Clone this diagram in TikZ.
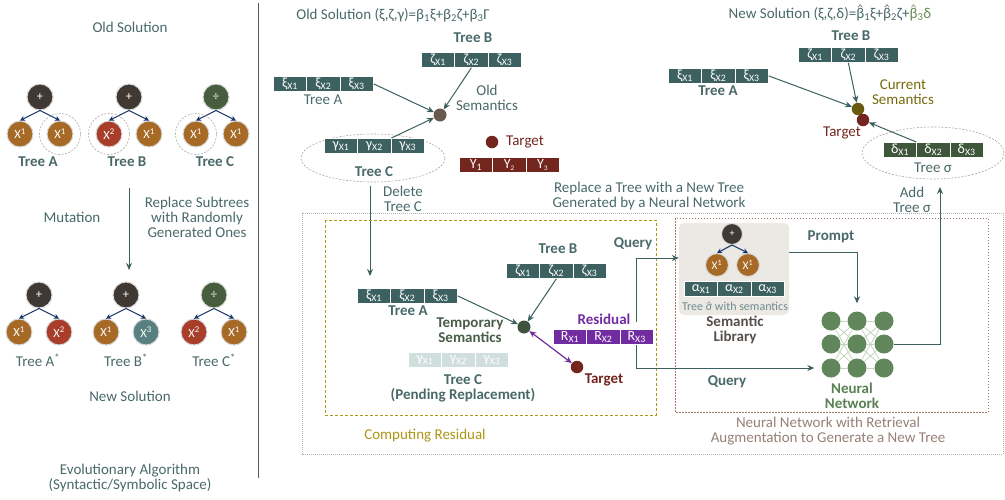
\documentclass[tikz,border=0pt]{standalone}
\usepackage{fontspec}
\setmainfont{Carlito}
\usetikzlibrary{arrows.meta,calc,shapes.geometric}
\definecolor{txt}{RGB}{73,105,105}
\definecolor{cellc}{RGB}{61,96,96}
\definecolor{rootc}{RGB}{64,56,50}
\definecolor{ochre}{RGB}{166,106,38}
\definecolor{redleaf}{RGB}{168,62,42}
\definecolor{greenroot}{RGB}{70,94,62}
\definecolor{tealleaf}{RGB}{88,128,128}
\definecolor{navy}{RGB}{24,52,102}
\definecolor{tgt}{RGB}{115,38,30}
\definecolor{oldsem}{RGB}{105,88,78}
\definecolor{cursem}{RGB}{105,90,15}
\definecolor{curtxt}{RGB}{120,105,10}
\definecolor{deltac}{RGB}{62,86,58}
\definecolor{tempc}{RGB}{62,82,62}
\definecolor{temptxt}{RGB}{72,92,72}
\definecolor{purp}{RGB}{112,44,160}
\definecolor{pend}{RGB}{208,222,222}
\definecolor{crtxt}{RGB}{172,150,20}
\definecolor{nnbox}{RGB}{160,120,108}
\definecolor{nntxt}{RGB}{150,128,118}
\definecolor{libbg}{RGB}{236,233,229}
\definecolor{libtxt}{RGB}{85,80,75}
\definecolor{nnnode}{RGB}{98,134,92}
\definecolor{nnline}{RGB}{195,212,190}
\definecolor{nntitle}{RGB}{88,128,82}
\definecolor{arrc}{RGB}{60,95,95}
\definecolor{grn}{RGB}{100,140,80}
\definecolor{lighttxt}{RGB}{110,140,140}
\definecolor{divc}{RGB}{90,90,90}
\newcommand\hatc[2][0.52em]{\ooalign{#2\cr\hidewidth\raisebox{#1}{\scalebox{0.8}[0.55]{\textasciicircum}}\hidewidth\cr}}
\newcommand\cellrow[5]{%
  \foreach \i in {1,2,3}{%
    \node[cell,#4] (#1\i) at ({#2+(\i-1)*33.3},#3) {#5\textsubscript{X\i}};}}
\newcommand\gptree[9]{%
  \node[tnode, fill=#4] (#1r) at (#2,#3) {#5};
  \node[tnode, fill=#6] (#1l) at ({#2-20},{#3+37}) {#7};
  \node[tnode, fill=#8] (#1R) at ({#2+20},{#3+37}) {#9};
  \draw[tarr] (#1r.south) -- (#1l.north);
  \draw[tarr] (#1r.south) -- (#1R.north);}
\begin{document}
\begin{tikzpicture}[x=1pt,y=-1pt,
  lbl/.style={text=txt, inner sep=1, align=center, font=\fontsize{15}{15}\selectfont},
  blbl/.style={lbl, font=\fontsize{15}{15}\selectfont\bfseries},
  cell/.style={rectangle, minimum width=33.3, minimum height=15, inner sep=0, draw=white, line width=0.8, text=white, font=\fontsize{14}{14}\selectfont, anchor=north west, fill=cellc},
  tnode/.style={circle, minimum size=26, inner sep=0, draw=black!15, line width=1, text=white, font=\fontsize{12.5}{12.5}\selectfont},
  tarr/.style={-{Stealth[length=5,width=5]}, draw=navy, line width=1.1},
  arr/.style={-{Stealth[length=7,width=6]}, draw=arrc, line width=1},
  dcirc/.style={draw=black!35, dash pattern=on 2pt off 1.5pt, line width=0.6, inner sep=0},
  dot/.style={circle, inner sep=0, minimum size=12.5},
  nnn/.style={circle, inner sep=0, minimum size=19, fill=nnnode},
  nnl/.style={draw=nnline, line width=0.8}]
\useasboundingbox (0,0) rectangle (1005,499);
% ---------- left panel ----------
\node[lbl] (oldsol) at (130,27) {Old Solution};
\gptree{ta}{40}{97}{rootc}{+}{ochre}{X\textsuperscript{1}}{ochre}{X\textsuperscript{1}}
\node[dcirc, circle, minimum size=41] (taRc) at (taR) {};
\gptree{tb}{129}{97}{rootc}{+}{redleaf}{X\textsuperscript{2}}{ochre}{X\textsuperscript{1}}
\node[dcirc, circle, minimum size=41] (tblc) at (tbl) {};
\gptree{tc}{216}{97}{greenroot}{÷}{ochre}{X\textsuperscript{1}}{ochre}{X\textsuperscript{1}}
\node[dcirc, circle, minimum size=41] (tclc) at (tcl) {};
\node[blbl] (talab) at (38,162) {Tree A};
\node[blbl] (tblab) at (127,162) {Tree B};
\node[blbl] (tclab) at (215,162) {Tree C};
\node[lbl] (mut) at (72,217) {Mutation};
\node[lbl] (repl) at (197,217) {Replace Subtrees\\with Randomly\\Generated Ones};
\coordinate (mutS) at (129,188);
\coordinate (mutE) at (129,270);
\draw[arr] (mutS) -- (mutE);
\gptree{na}{39}{295}{rootc}{+}{ochre}{X\textsuperscript{1}}{redleaf}{X\textsuperscript{2}}
\gptree{nb}{126}{295}{rootc}{+}{ochre}{X\textsuperscript{1}}{tealleaf}{X\textsuperscript{3}}
\gptree{nc}{214}{295}{greenroot}{÷}{redleaf}{X\textsuperscript{2}}{ochre}{X\textsuperscript{1}}
\node[lbl] (nalab) at (38,360) {Tree A\textsuperscript{*}};
\node[lbl] (nblab) at (126,360) {Tree B\textsuperscript{*}};
\node[lbl] (nclab) at (214,360) {Tree C\textsuperscript{*}};
\node[lbl] (newsol) at (130,396) {New Solution};
\node[lbl] (ea) at (130,478) {Evolutionary Algorithm\\(Syntactic/Symbolic Space)};
\coordinate (divT) at (258,3);
\coordinate (divB) at (258,478);
\draw[divc, line width=0.8] (divT) -- (divB);
% ---------- middle top ----------
\node[lbl] (oldtitle) at (393,15) {Old Solution (ξ,ζ,γ)=β\textsubscript{1}ξ+β\textsubscript{2}ζ+β\textsubscript{3}Γ};
\node[blbl] (otb) at (473,38) {Tree B};
\cellrow{oz}{421}{52}{}{ζ}
\cellrow{ox}{273}{76}{}{ξ}
\node[lbl] (ota) at (323,100) {Tree A};
\node[dcirc, ellipse, minimum width=144, minimum height=48] (ellC) at (373,158) {};
\cellrow{og}{324}{138}{}{γ}
\node[blbl] (otc) at (374,172) {Tree C};
\node[dot, fill=oldsem, minimum size=13] (osem) at (440,115) {};
\node[lbl] (osemlab) at (487,98) {Old\\Semantics};
\draw[arr] (ox3.east) -- (osem);
\draw[arr] (oz2.south) -- (osem);
\draw[arr] (og2.north east) -- (osem);
\node[dot, fill=tgt] (otgt) at (492,142) {};
\node[lbl, text=tgt] (otgtlab) at (525,142) {Target};
\node[cell, fill=tgt] (y1) at (459,157) {Y\textsubscript{1}};
\node[cell, fill=tgt] (y2) at (492.3,157) {Y\textsubscript{\scriptsize 2}};
\node[cell, fill=tgt] (y3) at (525.6,157) {Y\textsubscript{\scriptsize 3}};
\node[lbl] (dellab) at (403,198.5) {Delete\\Tree C};
\coordinate (delS) at (370,186);
\coordinate (delE) at (370,276);
\draw[arr] (delS) -- (delE);
\node[lbl] (repllab) at (649,195.5) {Replace a Tree with a New Tree\\Generated by a Neural Network};
% ---------- frames ----------
\draw[black!30, line width=0.6, dash pattern=on 1pt off 1pt] (302,213) rectangle (1003,454);
\draw[crtxt, line width=0.9, dash pattern=on 3pt off 2pt] (325,220) rectangle (656,415);
\node[lbl, text=crtxt] (crlab) at (425,436) {Computing Residual};
\draw[nnbox, line width=0.7, dash pattern=on 1.5pt off 1.5pt] (675,218) rectangle (988,412);
\node[lbl, text=nntxt] (nnlab) at (828,431.5) {Neural Network with Retrieval\\Augmentation to Generate a New Tree};
% ---------- computing residual ----------
\cellrow{mx}{357}{288}{}{ξ}
\node[blbl] (mta) at (408,311) {Tree A};
\node[blbl] (mtb) at (558,249) {Tree B};
\cellrow{mz}{506}{263}{}{ζ}
\node[dot, fill=tempc, minimum size=13] (tsem) at (524,327) {};
\node[blbl, text=temptxt] (tsemlab) at (470,330) {Temporary\\Semantics};
\draw[arr] (mx3.east) -- (tsem);
\draw[arr] (mz2.south) -- (tsem);
\cellrow{mg}{408}{352}{fill=pend}{γ}
\node[blbl] (mtc) at (463,388) {Tree C\\(Pending Replacement)};
\node[dot, fill=tgt] (mtgt) at (577,367) {};
\node[blbl, text=tgt] (mtgtlab) at (604,380) {Target};
\draw[{Stealth[length=7,width=6]}-{Stealth[length=7,width=6]}, draw=purp, line width=1.2] (tsem) -- (mtgt);
\node[blbl, text=purp] (reslab) at (604,319) {Residual};
\cellrow{rr}{553}{329}{fill=purp}{R}
% ---------- semantic library ----------
\node[rectangle, rounded corners=5, fill=libbg, minimum width=110, minimum height=92, inner sep=0] (lib) at (734,269) {};
\node[tnode, fill=rootc, minimum size=21, font=\fontsize{10}{10}\selectfont] (lr) at (732,234) {+};
\node[tnode, fill=ochre, minimum size=23, font=\fontsize{11.5}{11.5}\selectfont] (ll) at (717,265) {X\textsuperscript{1}};
\node[tnode, fill=ochre, minimum size=23, font=\fontsize{11.5}{11.5}\selectfont] (lR) at (748,265) {X\textsuperscript{1}};
\draw[tarr] (lr.south) -- (ll.north);
\draw[tarr] (lr.south) -- (lR.north);
\cellrow{al}{684}{281}{}{α}
\node[lbl, text=lighttxt, font=\fontsize{12}{12}\selectfont] (libsub) at (735,306) {Tree \hatc[0.3em]{σ} with semantics};
\node[blbl, text=libtxt] (liblab) at (735,330) {Semantic\\Library};
\node[blbl] (q1) at (633,244) {Query};
\draw[arr] ([yshift=7pt]rr3.north) |- ($(lib.west)+(0,-11)$);
% ---------- neural network ----------
\foreach \c/\xx in {1/831,2/857,3/884}{\foreach \r/\yy in {1/321,2/344,3/368}{\node[nnn] (nn\c\r) at (\xx,\yy) {};}}
\foreach \r in {1,2,3}{\foreach \s in {1,2,3}{\draw[nnl] (nn1\r) -- (nn2\s); \draw[nnl] (nn2\r) -- (nn3\s);}}
\node[blbl, text=nntitle] (nnt) at (852,396) {Neural\\Network};
\node[blbl] (prompt) at (831,237) {Prompt};
\draw[arr] ($(lib.east)+(0,-17)$) -| ([yshift=8pt]nn21.north);
\node[blbl] (q2) at (727,382) {Query};
\draw[arr] (rr3.south) |- ([xshift=-7pt]nn13.west);
% ---------- right top ----------
\node[lbl] (newtitle) at (830,14) {New Solution (ξ,ζ,δ)=\hatc{β}\textsubscript{1}ξ+\hatc{β}\textsubscript{2}ζ+\textcolor{grn}{\hatc{β}\textsubscript{3}δ}};
\node[blbl] (rtb) at (851,36) {Tree B};
\cellrow{nz}{798}{47}{}{ζ}
\cellrow{nx}{668}{68}{}{ξ}
\node[blbl] (rta) at (718,91) {Tree A};
\node[dcirc, ellipse, minimum width=142, minimum height=52] (ellS) at (933,153) {};
\cellrow{nd}{883}{142}{fill=deltac}{δ}
\node[lbl] (rts) at (933,168) {Tree σ};
\node[dot, fill=cursem] (csem) at (858,109) {};
\node[dot, fill=tgt] (rtgt) at (863,120) {};
\node[lbl, text=curtxt] (csemlab) at (903,92) {Current\\Semantics};
\node[lbl, text=tgt] (rtgtlab) at (842,133) {Target};
\draw[arr] (nx3.east) -- (csem);
\draw[arr] (nz2.south) -- (csem);
\draw[arr] (nd2.north west) -- (rtgt);
\node[lbl] (addlab) at (912,199.5) {Add\\Tree σ};
\coordinate (addtip) at (940,187);
\draw[arr] (nn32.east) -| (addtip);
\end{tikzpicture}
\end{document}
